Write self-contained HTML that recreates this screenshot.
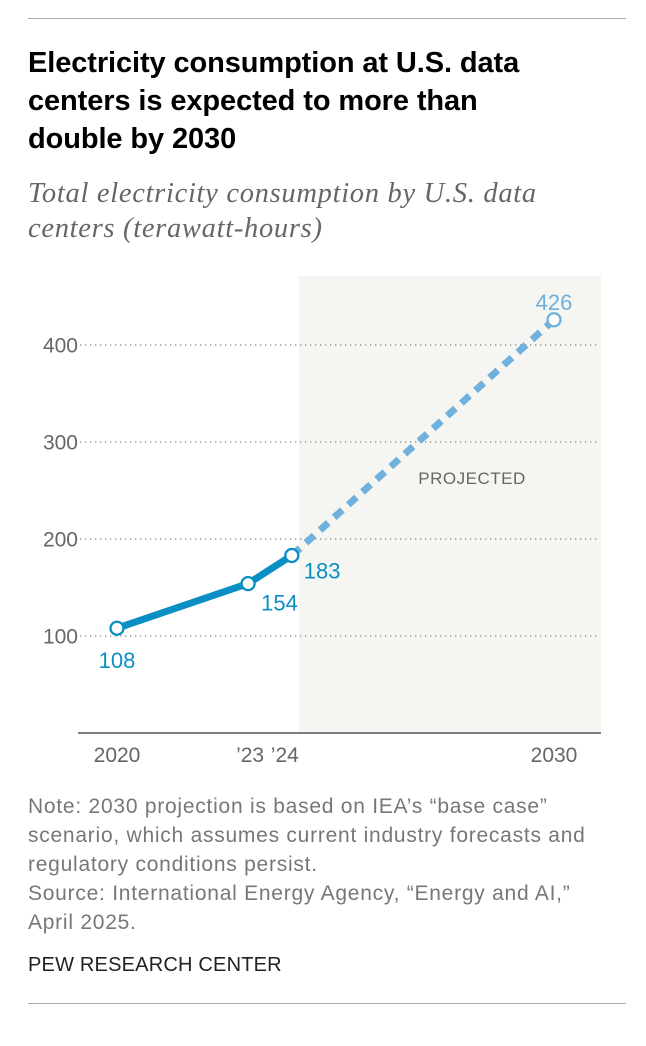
<!DOCTYPE html>
<html><head><meta charset="utf-8"><style>
body{margin:0;background:#fff;width:646px;height:1046px;position:relative;font-family:"Liberation Sans",sans-serif;overflow:hidden}
.rule{position:absolute;left:28px;width:598px;height:1px;background:#aaa}
#title{position:absolute;left:28px;top:44px;white-space:nowrap;font-weight:bold;font-size:29px;line-height:38px;color:#000;margin:0;letter-spacing:-0.1px}
#sub{position:absolute;left:28px;top:176px;white-space:nowrap;font-family:"Liberation Serif",serif;font-style:italic;font-size:28.5px;line-height:35px;color:#666;letter-spacing:0.7px}
#notes{position:absolute;left:28px;top:792px;white-space:nowrap;font-size:21px;line-height:29px;color:#777;letter-spacing:0.75px}
#pew{position:absolute;left:28px;top:954px;font-size:20px;color:#222;letter-spacing:0.2px}
svg{position:absolute;left:0;top:0}
</style></head><body>
<div class="rule" style="top:18px"></div>
<h1 id="title">Electricity consumption at U.S. data<br>centers is expected to more than<br>double by 2030</h1>
<div id="sub">Total electricity consumption by U.S. data<br>centers (terawatt-hours)</div>
<svg id="chart" width="646" height="790"></svg>
<div id="notes">Note: 2030 projection is based on IEA’s “base case”<br>scenario, which assumes current industry forecasts and<br>regulatory conditions persist.<br>Source: International Energy Agency, “Energy and AI,”<br>April 2025.</div>
<div id="pew">PEW RESEARCH CENTER</div>
<div class="rule" style="top:1003px"></div>
<script>
const years=[2020,2023,2024,2030];
const values=[108,154,183,426];
const xLabels=["2020","’23","’24","2030"];
const yTicks=[100,200,300,400];
const NS="http://www.w3.org/2000/svg";
const svg=document.getElementById('chart');
const x=y=>117+(y-2020)*43.7;
const yS=v=>733-v*0.97;
function mk(t,a,p){const e=document.createElementNS(NS,t);for(const k in a)e.setAttribute(k,a[k]);(p||svg).appendChild(e);return e;}
const shade=mk('rect',{x:x(2024)+7,y:276,width:601-(x(2024)+7),height:733-276,fill:'#f5f5f1'});


yTicks.forEach(t=>{
 const g=mk('line',{x1:80,x2:600,y1:yS(t),y2:yS(t),stroke:'#888','stroke-width':1.3,'stroke-dasharray':'1.3 3.7'});
 
 
 const l=mk('text',{x:78,y:yS(t)+7.5,'text-anchor':'end','font-size':21,fill:'#666','font-family':'Liberation Sans'});
 l.textContent=t;
 
 
});
const ax=mk('line',{x1:78,x2:601,y1:733,y2:733,stroke:'#555','stroke-width':1.5});


years.forEach((yr,i)=>{
 const l=mk('text',{x:x(yr)+(i==1?2:i==2?-7:0),y:762,'text-anchor':'middle','font-size':21,fill:'#666','font-family':'Liberation Sans'});
 l.textContent=xLabels[i];
 
 
});
const proj=mk('text',{x:472,y:484,'text-anchor':'middle','font-size':17,fill:'#666','font-family':'Liberation Sans','letter-spacing':'0.5'});
proj.textContent='PROJECTED';


const dl=mk('line',{x1:x(years[2]),y1:yS(values[2]),x2:x(years[3]),y2:yS(values[3]),stroke:'#6fb0dc','stroke-width':7,'stroke-dasharray':'11 8'});


const pts=[0,1,2].map(i=>x(years[i])+','+yS(values[i])).join(' ');
const sl=mk('polyline',{points:pts,fill:'none',stroke:'#0a8fc4','stroke-width':7,'stroke-linejoin':'round'});


const lblOff=[[0,33,'middle'],[13,20,'start'],[12,16,'start'],[0,-17,'middle']];
values.forEach((v,i)=>{
 const c=mk('circle',{cx:x(years[i]),cy:yS(v),r:6.5,fill:'#fff',stroke:i==3?'#6fb0dc':'#0a8fc4','stroke-width':2.3});
 
 
 const t=mk('text',{x:x(years[i])+lblOff[i][0],y:yS(v)+lblOff[i][1]+7,'text-anchor':lblOff[i][2],'font-size':22,fill:i==3?'#6fb0dc':'#0a8fc4','font-family':'Liberation Sans'});
 t.textContent=v;
 
 
});
</script>
</body></html>
